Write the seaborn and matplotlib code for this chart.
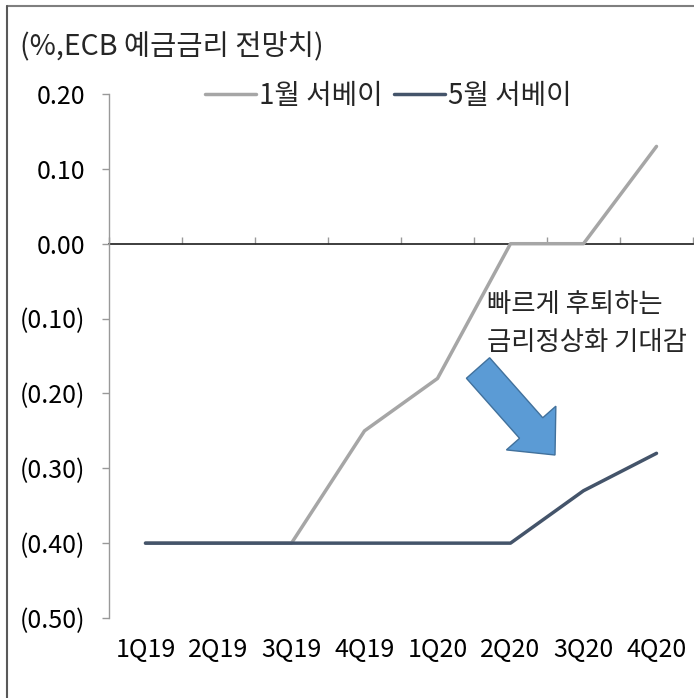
import matplotlib
matplotlib.use("Agg")
import matplotlib.pyplot as plt
import matplotlib.transforms as mtrans
from matplotlib.patches import FancyArrow
from matplotlib.ticker import FuncFormatter
import seaborn as sns
import pandas as pd

quarters = ["1Q19", "2Q19", "3Q19", "4Q19", "1Q20", "2Q20", "3Q20", "4Q20"]
jan_survey = [-0.40, -0.40, -0.40, -0.25, -0.18, 0.00, 0.00, 0.13]
may_survey = [-0.40, -0.40, -0.40, -0.40, -0.40, -0.40, -0.33, -0.28]
series_names = ["1월 서베이", "5월 서베이"]
title_text = "(%,ECB 예금금리 전망치)"
note_lines = ["빠르게 후퇴하는", "금리정상화 기대감"]

df = pd.DataFrame({
    "quarter": quarters * 2,
    "value": jan_survey + may_survey,
    "survey": [series_names[0]] * len(quarters) + [series_names[1]] * len(quarters),
})

sns.set_theme(style="white")
plt.rcParams["font.family"] = ["Noto Sans CJK KR", "DejaVu Sans"]

W, H = 694, 698
fig = plt.figure(figsize=(W / 100, H / 100), dpi=100)
ax = fig.add_axes([109 / W, (H - 618) / H, 584 / W, (618 - 94) / H])

palette = {series_names[0]: "#A6A6A6", series_names[1]: "#44546A"}
sns.lineplot(data=df, x="quarter", y="value", hue="survey", palette=palette,
             linewidth=2.5, sort=False, ax=ax, legend=True)

ax.set_xlim(-0.5, len(quarters) - 0.5)
ax.set_ylim(-0.5, 0.2)
ax.set_xlabel("")
ax.set_ylabel("")

def fmt(v, pos):
    if v < -1e-9:
        return f"({abs(v):.2f})"
    return f"{abs(v):.2f}"

TICK_FS = 18
KO_FS = 20

ax.set_yticks([0.2, 0.1, 0.0, -0.1, -0.2, -0.3, -0.4, -0.5])
ax.yaxis.set_major_formatter(FuncFormatter(fmt))
ax.tick_params(axis="y", which="major", direction="out", length=5, width=1,
               color="#999999", pad=12, labelsize=TICK_FS, labelcolor="black", left=True)
ax.set_xticks(range(len(quarters)))
ax.set_xticklabels(quarters)
ax.tick_params(axis="x", length=0, pad=14, labelsize=TICK_FS, labelcolor="black")

for s in ["top", "right", "bottom"]:
    ax.spines[s].set_visible(False)
ax.spines["left"].set_color("#999999")
ax.spines["left"].set_linewidth(1)

# zero axis line with category-boundary ticks
sec = ax.secondary_xaxis(0.5 / 0.7)
sec.set_xticks([i + 0.5 for i in range(-1, len(quarters))])
sec.set_xticklabels([])
sec.tick_params(direction="out", length=5, width=1, color="#999999")
sec.spines["bottom"].set_color("#999999")
sec.spines["bottom"].set_linewidth(1)

# legend
handles, labels = ax.get_legend_handles_labels()
ax.legend(handles, labels, ncol=2, frameon=False, loc="center",
          bbox_to_anchor=(388 / W, 1 - 96 / H), bbox_transform=fig.transFigure,
          fontsize=KO_FS, handlelength=1.85, handletextpad=0.1, columnspacing=0.4,
          borderpad=0)

# title
fig.text(20 / W, 1 - 47 / H, title_text, fontsize=KO_FS + 0.5, ha="left", va="center")

# annotation text
fig.text(487 / W, 1 - 305 / H, note_lines[0], fontsize=19, ha="left", va="center")
fig.text(487 / W, 1 - 342 / H, note_lines[1], fontsize=19, ha="left", va="center")

# block arrow (pixel coordinates)
tail = (478, H - 368)
tip = (555, H - 455)
arrow = FancyArrow(tail[0], tail[1], tip[0] - tail[0], tip[1] - tail[1],
                   width=31, head_width=66, head_length=36,
                   length_includes_head=True, facecolor="#5B9BD5",
                   edgecolor="#41719C", linewidth=1,
                   transform=mtrans.IdentityTransform())
fig.add_artist(arrow)

# outer border (top and left visible)
fig.add_artist(plt.Line2D([7 / W, 1], [1 - 6 / H, 1 - 6 / H], transform=fig.transFigure,
                          color="#7F7F7F", linewidth=1.5))
fig.add_artist(plt.Line2D([7 / W, 7 / W], [0, 1 - 6 / H], transform=fig.transFigure,
                          color="#595959", linewidth=1.5))

fig.savefig("out.png", dpi=100)
